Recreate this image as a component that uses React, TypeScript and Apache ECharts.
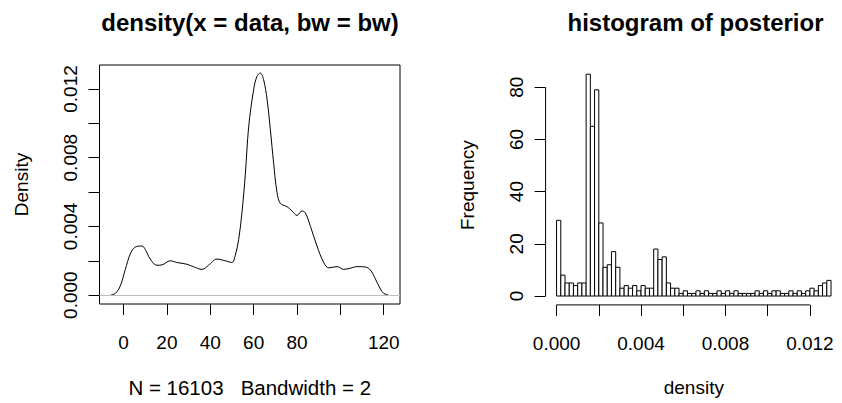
import React, { useEffect, useRef } from "react";
import * as echarts from "echarts";

// ---- density curve ----
const densityX = [
  -6, -3.8, -1.5, 0.8, 3.1, 5.4, 8.5, 10, 12.3, 15.4, 17.7, 21.5, 24.6, 29.2, 32.3, 36.2, 39.2, 43.1,
  46.9, 50, 51.5, 53.1, 54.6, 56.2, 57.7, 60, 61.5, 63.1, 64.6, 66.2, 67.7, 69.2, 70.8, 72.3, 75.4,
  77.7, 80, 82.3, 83.8, 86.2, 89.2, 92.3, 94.6, 98.5, 101.5, 104.6, 107.7, 111.5, 113.8, 116.2, 118.5,
  120, 122,
];
const densityY = [
  0, 0.0001, 0.00054, 0.0015, 0.0024, 0.0028, 0.00286, 0.00267, 0.0021, 0.00174, 0.00176, 0.002,
  0.0019, 0.0018, 0.00165, 0.0015, 0.00174, 0.0021, 0.002, 0.0019, 0.0023, 0.00325, 0.0048, 0.0071,
  0.0098, 0.01196, 0.01273, 0.01293, 0.01254, 0.01138, 0.00964, 0.0077, 0.00596, 0.00534, 0.00515,
  0.0049, 0.00464, 0.0049, 0.0048, 0.004, 0.00286, 0.0019, 0.00159, 0.00166, 0.0015, 0.00157, 0.00166,
  0.00164, 0.00147, 0.00093, 0.00035, 0.0001, 0.00002,
];
const densityXTicks = [0, 20, 40, 60, 80, 100, 120];
const densityXLabels = [0, 20, 40, 60, 80, 120];
const densityYTicks = [0, 0.002, 0.004, 0.006, 0.008, 0.01, 0.012];
const densityYLabels = [0, 0.004, 0.008, 0.012];

// ---- histogram ----
const histBinWidth = 0.0002;
const histCounts = [
  29, 8, 5, 5, 4, 5, 5, 85, 65, 79, 28, 11, 12, 17, 11, 3, 4, 3, 4, 2, 4, 3, 3, 18, 14, 15, 5, 3, 3,
  1, 2, 1, 1, 2, 1, 2, 1, 1, 2, 1, 2, 1, 2, 1, 1, 1, 1, 2, 1, 2, 1, 2, 2, 1, 1, 2, 1, 2, 1, 2, 3, 2, 4,
  5, 6,
];
const histXTicks = [0, 0.002, 0.004, 0.006, 0.008, 0.01, 0.012];
const histXLabels = [0, 0.004, 0.008, 0.012];
const histYTicks = [0, 20, 40, 60, 80];

const FONT = "'Liberation Sans', Arial, Helvetica, sans-serif";

const dXMin = -11.1;
const dXMax = 127.5;
const dYMin = -0.000515;
const dYMax = 0.013395;
const hXMin = -0.00052;
const hXMax = 0.01352;
const hYMin = -3.4;
const hYMax = 88.4;

export default function App() {
  const ref = useRef<HTMLDivElement>(null);
  useEffect(() => {
    const chart = echarts.init(ref.current!, null, { renderer: "svg" });
    const tickStyle = { color: "#000", width: 1 };
    const labelStyle = { color: "#000", fontSize: 19, fontFamily: FONT };
    const nameStyle = { color: "#000", fontSize: 19, fontFamily: FONT };
    const histData = histCounts.map((c, i) => [i * histBinWidth, (i + 1) * histBinWidth, c]);
    const option: any = {
      animation: false,
      backgroundColor: "#fff",
      graphic: [
        {
          type: "text",
          x: 250,
          y: 22,
          style: {
            text: "density(x = data, bw = bw)",
            fill: "#000",
            fontSize: 24,
            fontWeight: "bold",
            fontFamily: FONT,
            align: "center",
            verticalAlign: "middle",
          },
        },
        {
          type: "text",
          x: 695.5,
          y: 22,
          style: {
            text: "histogram of posterior",
            fill: "#000",
            fontSize: 24,
            fontWeight: "bold",
            fontFamily: FONT,
            align: "center",
            verticalAlign: "middle",
          },
        },
      ],
      grid: [
        {
          left: 99.5,
          top: 65,
          width: 300.5,
          height: 239.5,
          show: true,
          borderColor: "#000",
          borderWidth: 1,
          backgroundColor: "transparent",
        },
        { left: 545.6, top: 65.3, width: 299.8, height: 239.6 },
      ],
      xAxis: [
        {
          type: "value",
          gridIndex: 0,
          min: dXMin,
          max: dXMax,
          axisLine: { show: false, onZero: false },
          splitLine: { show: false },
          axisTick: { show: true, customValues: densityXTicks, length: 11, lineStyle: tickStyle },
          axisLabel: { customValues: densityXLabels, margin: 29, ...labelStyle },
          name: "N = 16103   Bandwidth = 2",
          nameLocation: "middle",
          nameGap: 73,
          nameTextStyle: { ...nameStyle, fontSize: 20.5 },
        },
        {
          type: "value",
          gridIndex: 1,
          min: hXMin,
          max: hXMax,
          axisLine: { show: false, onZero: false },
          splitLine: { show: false },
          axisTick: { show: true, customValues: histXTicks, length: 11, lineStyle: tickStyle },
          axisLabel: {
            customValues: histXLabels,
            margin: 29,
            formatter: (v: number) => v.toFixed(3),
            ...labelStyle,
          },
          name: "density",
          nameLocation: "middle",
          nameGap: 73,
          nameTextStyle: nameStyle,
        },
      ],
      yAxis: [
        {
          type: "value",
          gridIndex: 0,
          min: dYMin,
          max: dYMax,
          axisLine: { show: false, onZero: false },
          splitLine: { show: false },
          axisTick: { show: true, customValues: densityYTicks, length: 11, lineStyle: tickStyle },
          axisLabel: {
            customValues: densityYLabels,
            rotate: 90,
            margin: 20,
            formatter: (v: number) => v.toFixed(3),
            ...labelStyle,
          },
          name: "Density",
          nameLocation: "middle",
          nameGap: 69,
          nameTextStyle: nameStyle,
        },
        {
          type: "value",
          gridIndex: 1,
          min: hYMin,
          max: hYMax,
          axisLine: { show: false, onZero: false },
          splitLine: { show: false },
          axisTick: { show: true, customValues: histYTicks, length: 11, lineStyle: tickStyle },
          axisLabel: { customValues: histYTicks, rotate: 90, margin: 20, ...labelStyle },
          name: "Frequency",
          nameLocation: "middle",
          nameGap: 69,
          nameTextStyle: nameStyle,
        },
      ],
      series: [
        {
          type: "line",
          xAxisIndex: 0,
          yAxisIndex: 0,
          data: densityX.map((x, i) => [x, densityY[i]]),
          smooth: 0.35,
          showSymbol: false,
          symbol: "none",
          lineStyle: { color: "#000", width: 1 },
          silent: true,
          markLine: {
            silent: true,
            symbol: "none",
            label: { show: false },
            lineStyle: { color: "#bebebe", width: 1, type: "solid" },
            data: [{ yAxis: 0 }],
          },
          z: 3,
        },
        {
          type: "custom",
          xAxisIndex: 1,
          yAxisIndex: 1,
          data: histData,
          encode: { x: [0, 1], y: 2 },
          silent: true,
          renderItem: (params: any, api: any) => {
            const p0 = api.coord([api.value(0), 0]);
            const p1 = api.coord([api.value(1), api.value(2)]);
            return {
              type: "rect",
              shape: { x: p0[0], y: p1[1], width: p1[0] - p0[0], height: p0[1] - p1[1] },
              style: { fill: "#fff", stroke: "#000", lineWidth: 1 },
            };
          },
        },
        {
          // x axis line of the histogram, from first to last tick
          type: "line",
          xAxisIndex: 1,
          yAxisIndex: 1,
          data: [
            [histXTicks[0], hYMin],
            [histXTicks[histXTicks.length - 1], hYMin],
          ],
          showSymbol: false,
          symbol: "none",
          clip: false,
          silent: true,
          lineStyle: { color: "#000", width: 1 },
        },
        {
          // y axis line of the histogram, from first to last tick
          type: "line",
          xAxisIndex: 1,
          yAxisIndex: 1,
          data: [
            [hXMin, histYTicks[0]],
            [hXMin, histYTicks[histYTicks.length - 1]],
          ],
          showSymbol: false,
          symbol: "none",
          clip: false,
          silent: true,
          lineStyle: { color: "#000", width: 1 },
        },
      ],
    };
    chart.setOption(option);
    return () => chart.dispose();
  }, []);
  return (
    <div
      ref={ref}
      style={{ position: "fixed", left: 0, top: 0, width: 842, height: 403, background: "#fff" }}
    />
  );
}
